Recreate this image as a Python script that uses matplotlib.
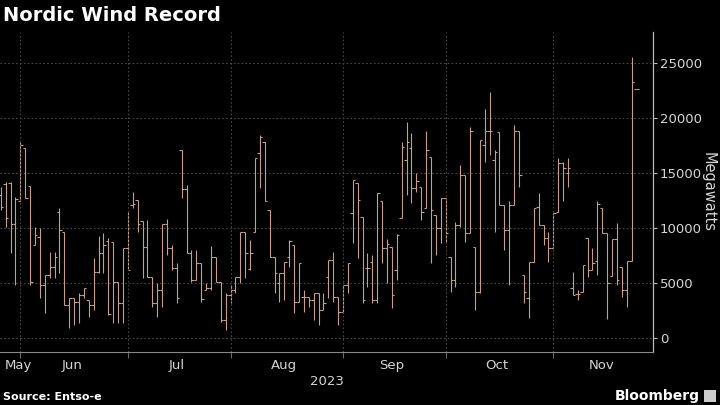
import pandas as pd
import matplotlib
matplotlib.use("Agg")
import matplotlib.pyplot as plt
from matplotlib.patches import Rectangle

# daily wind output, Nordic region (MW) - business days
dates = pd.bdate_range("2023-05-26", "2023-11-24")

open_ = [13000, 14000, 14100, 10330, 12400, 17240, 13820, 8450, 9210, 4820,
         5730, 6480, 11480, 9670, 3000, 3610, 3300, 3910, 3450, 3000,
         6030, 7700, 8800, 8760, 5120, 3150, 8150, 12100, 12550, 10670,
         8300, 5580, 3150, 4360, 10330, 8150, 6330, 17090, 13520, 7700,
         5270, 6790, 4360, 4500, 7390, 5120, 1640, 3900, 4360, 5580,
         9670, 6300, 9670, 16790, 17850, 11640, 7390, 4970, 5880, 7390,
         8450, 3300, 3760, 3760, 3450, 4060, 2550, 5580, 7090, 3760,
         2390, 4820, 11330, 14060, 11030, 6330, 6900, 3450, 12400, 8150,
         8300, 6180, 10880, 16180, 17240, 13610, 13700, 11790, 16420, 11180,
         9970, 12700, 7390, 5270, 10270, 14820, 9520, 8300, 4210, 17550,
         18760, 16180, 18670, 12090, 9820, 12090, 18760, 5730, 3610, 6940,
         11940, 10270, 9100, 8150, 11480, 15880, 14970, 4520, 4000, 4210,
         9060, 6180, 7030, 11790, 9520, 5640, 8970, 6480, 4360, 7030,
         22610]
high = [13750, 14200, 14200, 12850, 17850, 17240, 13820, 10120, 10030, 5730,
        7850, 7850, 11790, 9670, 3610, 3610, 4060, 4520, 3450, 7240,
        9270, 9580, 9060, 8760, 5120, 8150, 11480, 13300, 12550, 10670,
        10700, 5580, 4970, 10330, 10790, 8450, 6790, 17090, 13910, 8000,
        8000, 6790, 4970, 8360, 7390, 5120, 4060, 4820, 5580, 9670,
        9670, 8910, 16330, 18450, 17850, 11640, 7390, 5880, 6940, 8910,
        8450, 6850, 4360, 3760, 4060, 4060, 4060, 7090, 7850, 3760,
        4820, 6790, 14360, 14060, 11030, 7700, 7550, 13150, 12400, 8970,
        8300, 9450, 17850, 19660, 18600, 15030, 13700, 18760, 16420, 11180,
        12700, 12700, 7390, 10570, 15730, 14820, 19210, 8300, 18000, 20790,
        22390, 17090, 18670, 12090, 12400, 19360, 18760, 5730, 6940, 11790,
        13150, 10270, 9670, 11330, 16330, 16030, 16330, 6030, 4400, 6640,
        9060, 8150, 12450, 11790, 9520, 8970, 10480, 6480, 7030, 25520,
        22610]
low = [11640, 10120, 7730, 4820, 12400, 12700, 4820, 8450, 3610, 2270,
       5430, 5430, 5880, 3000, 880, 1180, 1330, 3610, 1940, 2550,
       5880, 5880, 2090, 1330, 1330, 1330, 6180, 11790, 9670, 5430,
       5580, 2850, 1940, 2850, 7550, 6180, 3150, 12700, 7700, 5120,
       5270, 3300, 4360, 4360, 5120, 1480, 730, 3150, 4090, 4970,
       5430, 6180, 9670, 13610, 12400, 7390, 4060, 3300, 3450, 6480,
       2240, 3300, 2390, 2850, 1640, 1180, 2550, 3610, 3300, 1180,
       2240, 4060, 8610, 7240, 3150, 4670, 3150, 3150, 6790, 4970,
       2700, 5270, 10880, 13000, 12240, 13300, 10730, 11790, 6850, 7550,
       8610, 8610, 4210, 4670, 10120, 8760, 9520, 2550, 4060, 16030,
       16640, 9670, 12090, 8000, 4820, 12090, 13750, 3150, 1790, 6940,
       10270, 8450, 6940, 8150, 11480, 12400, 13750, 3910, 3450, 4210,
       5580, 6180, 5730, 9520, 1700, 5640, 4820, 3700, 2850, 7030,
       22610]
close = [11940, 10900, 10330, 12600, 17550, 12700, 5120, 9360, 4820, 5730,
         6480, 7390, 9820, 3000, 3610, 3300, 3910, 4520, 3000, 6030,
         7700, 8450, 2180, 5120, 3150, 8150, 6180, 12200, 10360, 8300,
         5580, 3150, 4360, 10330, 8150, 6330, 3610, 13520, 7700, 5270,
         6790, 3500, 4500, 7390, 5120, 1640, 3900, 4360, 5580, 9670,
         7700, 7700, 16330, 18300, 12400, 7390, 5880, 5880, 6940, 8800,
         3300, 6850, 3760, 3450, 4060, 2550, 3150, 7090, 3760, 2390,
         4820, 6790, 14360, 12550, 3450, 6330, 3450, 13150, 8150, 8500,
         3910, 9400, 17390, 17850, 13610, 14300, 11480, 17090, 11640, 9970,
         12700, 9550, 5270, 10270, 14820, 9520, 18760, 4210, 18000, 18760,
         18760, 16900, 12090, 9820, 12090, 18760, 14820, 4210, 6940, 11790,
         10270, 9100, 8150, 11330, 15880, 15420, 15420, 3910, 4000, 6640,
         6180, 6790, 12200, 9520, 4970, 8970, 5270, 4360, 7030, 23240,
         22610]

bar_color = "#c79e88"
grid_color = "#474747"
text_color = "#d4d4d4"

fig = plt.figure(figsize=(7.2, 4.05), dpi=100, facecolor="black")
ax = fig.add_axes([0.0, 0.131, 0.907, 0.790])
ax.set_facecolor("black")

x = list(range(len(dates)))
tick = 0.5
ax.vlines(x, low, high, color=bar_color, linewidth=0.8)
ax.hlines(open_, [i - tick for i in x], x, color=bar_color, linewidth=0.8)
ax.hlines(close, x, [i + tick for i in x], color=bar_color, linewidth=0.8)

ax.set_xlim(-0.15, 133.4)
ax.set_ylim(-1270, 27800)

# y axis on the right
ax.yaxis.tick_right()
ax.set_yticks([0, 5000, 10000, 15000, 20000, 25000])
ax.tick_params(axis="y", colors="#bbbbbb", labelcolor=text_color, labelsize=9.5,
               length=3, width=0.8, pad=2)
ax.yaxis.set_label_position("right")
ax.set_ylabel("Megawatts", color=text_color, fontsize=10.5, rotation=270, labelpad=10)
ax.grid(axis="y", color=grid_color, linestyle=(0, (1.5, 2)), linewidth=0.8)

# month boundaries and labels
months = dates.to_period("M")
starts = [i for i in range(1, len(dates)) if months[i] != months[i - 1]]
ax.set_xticks(starts, minor=True)
for s in starts:
    ax.axvline(s, color=grid_color, linestyle=(0, (1.5, 2)), linewidth=0.8)
edges = [-0.15] + [s - 0.5 for s in starts] + [133.4]
centers = [(edges[k] + edges[k + 1]) / 2 for k in range(len(edges) - 1)]
names = [months[0].strftime("%b")] + [months[s].strftime("%b") for s in starts]
centers[0] = 0.9
ax.set_xticks(centers)
ax.set_xticklabels(names)
ax.get_xticklabels()[0].set_horizontalalignment("left")
ax.tick_params(axis="x", which="major", length=0, labelcolor=text_color,
               labelsize=9.5, pad=5)
ax.tick_params(axis="x", which="minor", length=4, color="#666666", width=0.8)
ax.text(0.5, -0.072, "2023", transform=ax.transAxes, ha="center", va="top",
        color=text_color, fontsize=9.5)

for side in ["left", "top"]:
    ax.spines[side].set_visible(False)
ax.spines["right"].set_color("#bbbbbb")
ax.spines["bottom"].set_color("#888888")
ax.spines["right"].set_linewidth(0.9)
ax.spines["bottom"].set_linewidth(0.8)

fig.text(0.004, 0.962, "Nordic Wind Record", color="white", fontsize=14,
         fontweight="bold", ha="left", va="center")
fig.text(0.004, 0.02, "Source: Entso-e", color="white", fontsize=8,
         fontweight="bold", ha="left", va="center")
fig.text(0.972, 0.022, "Bloomberg", color="white", fontsize=10,
         fontweight="bold", ha="right", va="center")
fig.patches.append(Rectangle((0.978, 0.008), 0.016, 0.03, transform=fig.transFigure,
                             facecolor="#cccccc", edgecolor="none"))

fig.savefig("out.png", dpi=100, facecolor="black")
